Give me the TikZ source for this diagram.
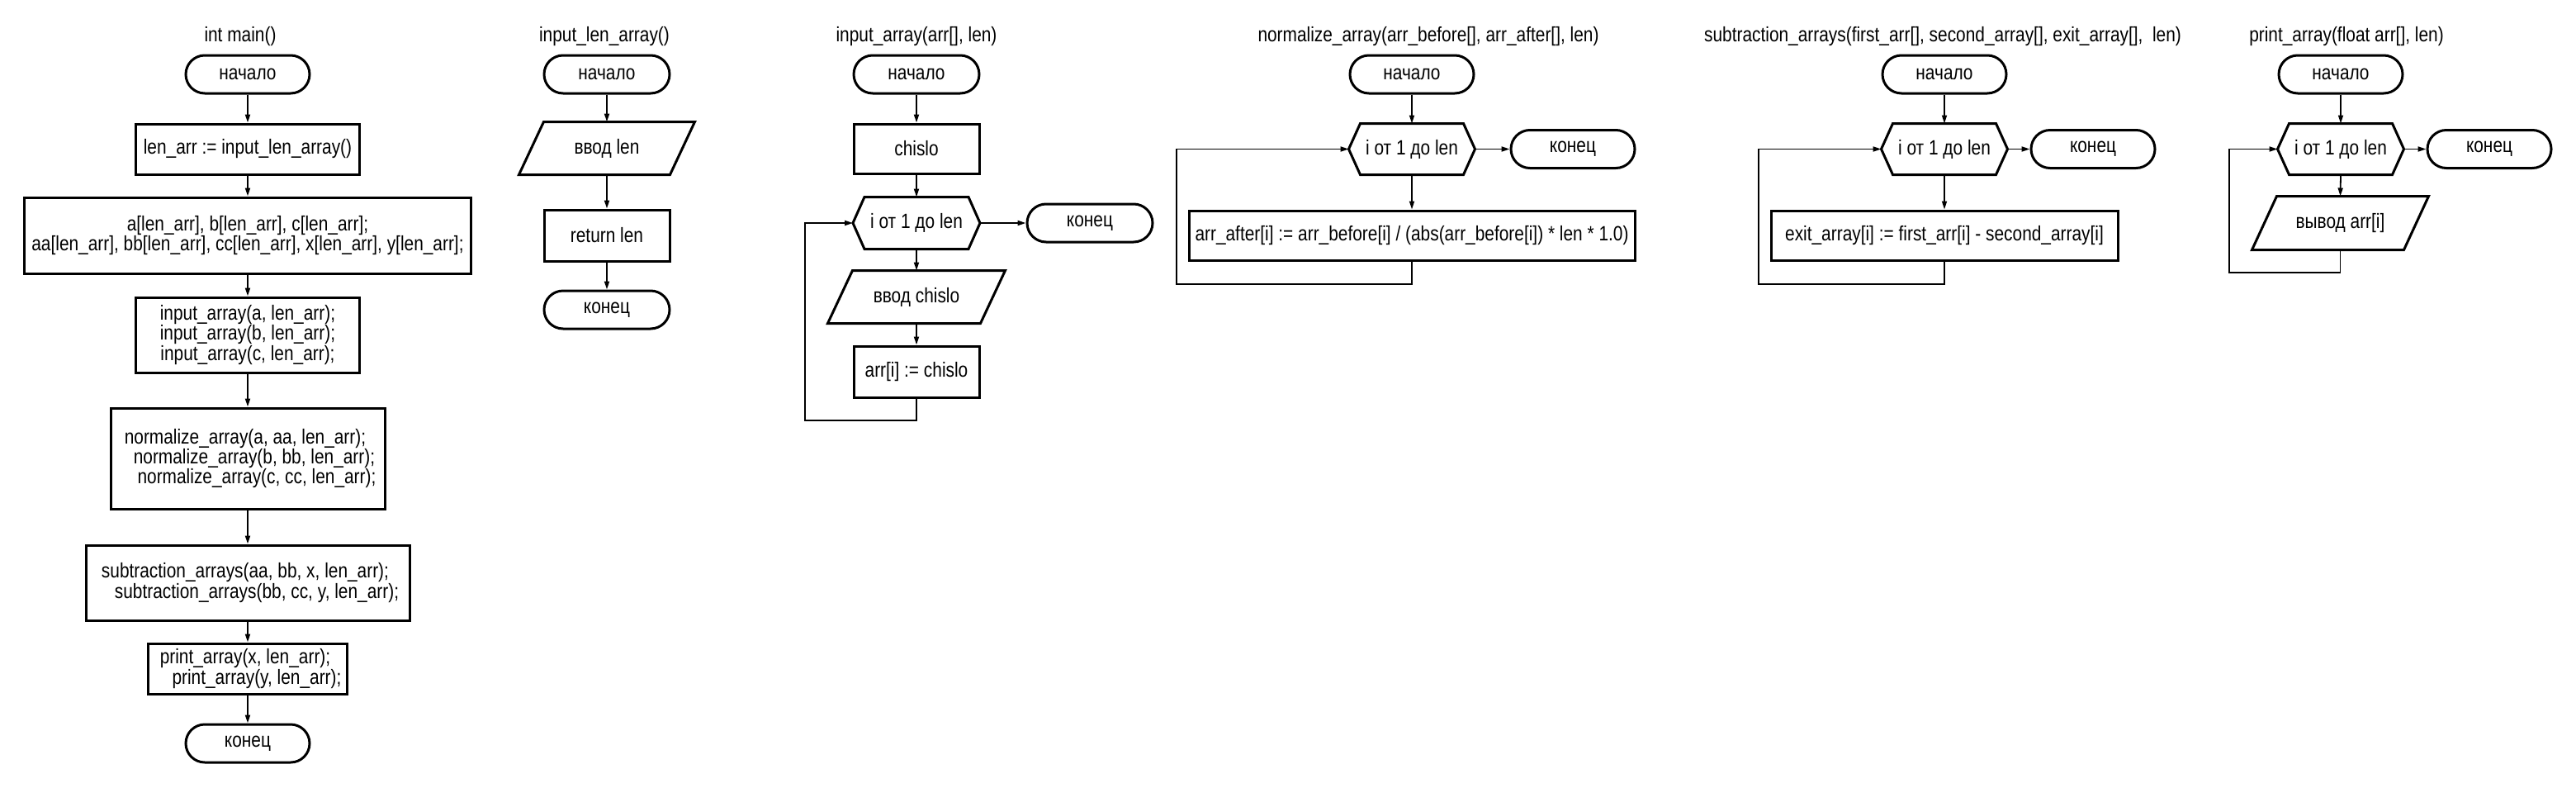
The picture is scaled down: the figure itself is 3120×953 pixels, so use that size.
\documentclass[tikz,border=0pt]{standalone}
\usepackage{fontspec}
\setmainfont{Liberation Sans}[FakeStretch=0.835]
\usetikzlibrary{arrows.meta}
\newcommand\hexo[1]{\draw[shapeline] (#1.west) -- ([xshift=14pt]#1.north west) -- ([xshift=-14pt]#1.north east) -- (#1.east) -- ([xshift=-14pt]#1.south east) -- ([xshift=14pt]#1.south west) -- cycle;}
\newcommand\paro[2]{\draw[shapeline] (#1.south west) -- ([xshift=-#2]#1.south east) -- (#1.north east) -- ([xshift=#2]#1.north west) -- cycle;}
\begin{document}
\begin{tikzpicture}[x=1pt,y=-1pt,
  font=\fontsize{25}{21.4}\selectfont,
  shapeline/.style={line width=3pt, line join=miter},
  term/.style={draw, line width=3pt, rounded corners=23pt, minimum width=150pt, minimum height=46pt, inner sep=0pt},
  proc/.style={draw, line width=3pt, inner sep=0pt, align=center},
  hexn/.style={inner sep=0pt, outer sep=1.5pt, minimum width=150pt, minimum height=59pt},
  paran/.style={inner sep=0pt, outer sep=1.5pt, minimum height=61pt},
  ttl/.style={inner sep=0pt},
  conn/.style={line width=1.8pt, -{Triangle[length=10pt,width=6pt]}}
]
\fill[white] (0,0) rectangle (3120,953);
\useasboundingbox (0,0) rectangle (3120,953);

% ---------- int main() ----------
\node[ttl] (t1) at (291,44) {int main()};
\node[term] (m0) at (300,90) {начало};
\node[proc, minimum width=271pt, minimum height=61pt] (m1) at (300,180.5) {len\_arr := input\_len\_array()};
\node[proc, minimum width=541pt, minimum height=92pt] (m2) at (300,285) {a[len\_arr], b[len\_arr], c[len\_arr];\\aa[len\_arr], bb[len\_arr], cc[len\_arr], x[len\_arr], y[len\_arr];};
\node[proc, minimum width=271pt, minimum height=91pt] (m3) at (300,405.5) {input\_array(a, len\_arr);\\input\_array(b, len\_arr);\\input\_array(c, len\_arr);};
\node[proc, minimum width=332pt, minimum height=122pt] (m4) at (300,555) {normalize\_array(a, aa, len\_arr);\hspace*{6pt}\\\hspace*{16pt}normalize\_array(b, bb, len\_arr);\\\hspace*{22pt}normalize\_array(c, cc, len\_arr);};
\node[proc, minimum width=392pt, minimum height=91pt] (m5) at (300,705.5) {subtraction\_arrays(aa, bb, x, len\_arr);\hspace*{6pt}\\\hspace*{22pt}subtraction\_arrays(bb, cc, y, len\_arr);};
\node[proc, minimum width=241pt, minimum height=61pt] (m6) at (300,809.5) {print\_array(x, len\_arr);\hspace*{6pt}\\\hspace*{22pt}print\_array(y, len\_arr);};
\node[term] (m7) at (300,900) {конец};
\draw[conn] (m0.south) -- (m1.north);
\draw[conn] (m1.south) -- (m2.north);
\draw[conn] (m2.south) -- (m3.north);
\draw[conn] (m3.south) -- (m4.north);
\draw[conn] (m4.south) -- (m5.north);
\draw[conn] (m5.south) -- (m6.north);
\draw[conn] (m6.south) -- (m7.north);

% ---------- input_len_array() ----------
\node[ttl] (t2) at (732,44) {input\_len\_array()};
\node[term, minimum width=152pt] (a0) at (735,90) {начало};
\node[paran, minimum width=210pt] (a1) at (735,179.5) {ввод len};
\paro{a1}{30pt}
\node[proc, minimum width=152pt, minimum height=62pt] (a2) at (735,285) {return len};
\node[term, minimum width=152pt] (a3) at (735,375) {конец};
\draw[conn] (a0.south) -- (a1.north);
\draw[conn] (a1.south) -- (a2.north);
\draw[conn] (a2.south) -- (a3.north);

% ---------- input_array(arr[], len) ----------
\node[ttl] (t3) at (1110,44) {input\_array(arr[], len)};
\node[term, minimum width=152pt] (b0) at (1110,90) {начало};
\node[proc, minimum width=152pt, minimum height=60pt] (b1) at (1110,180) {chislo};
\node[hexn, minimum width=151pt, minimum height=60pt] (b2) at (1110,270) {i от 1 до len};
\hexo{b2}
\node[term, minimum width=152pt] (b3) at (1320,270) {конец};
\node[paran, minimum width=212pt] (b4) at (1110,359.5) {ввод chislo};
\paro{b4}{30pt}
\node[proc, minimum width=152pt, minimum height=62pt] (b5) at (1110,450) {arr[i] := chislo};
\coordinate (bl) at (975,509);
\draw[conn] (b0.south) -- (b1.north);
\draw[conn] (b1.south) -- (b2.north);
\draw[conn] (b2.east) -- (b3.west);
\draw[conn] (b2.south) -- (b4.north);
\draw[conn] (b4.south) -- (b5.north);
\draw[conn] (b5.south) |- (bl) |- (b2.west);

% ---------- normalize_array ----------
\node[ttl] (t4) at (1730,44) {normalize\_array(arr\_before[], arr\_after[], len)};
\node[term] (c0) at (1710,90) {начало};
\node[hexn] (c1) at (1710,180.5) {i от 1 до len};
\hexo{c1}
\node[term] (c2) at (1905,180.5) {конец};
\node[proc, minimum width=540pt, minimum height=60pt] (c3) at (1710,285) {arr\_after[i] := arr\_before[i] / (abs(arr\_before[i]) * len * 1.0)};
\coordinate (cl) at (1425,344);
\draw[conn] (c0.south) -- (c1.north);
\draw[conn] (c1.east) -- (c2.west);
\draw[conn] (c1.south) -- (c3.north);
\draw[conn] (c3.south) |- (cl) |- (c1.west);

% ---------- subtraction_arrays ----------
\node[ttl] (t5) at (2353,44) {subtraction\_arrays(first\_arr[], second\_array[], exit\_array[],\ \ len)};
\node[term] (d0) at (2355,90) {начало};
\node[hexn] (d1) at (2355,180.5) {i от 1 до len};
\hexo{d1}
\node[term] (d2) at (2535,180.5) {конец};
\node[proc, minimum width=420pt, minimum height=60pt] (d3) at (2355,285) {exit\_array[i] := first\_arr[i] - second\_array[i]};
\coordinate (dl) at (2130,344);
\draw[conn] (d0.south) -- (d1.north);
\draw[conn] (d1.east) -- (d2.west);
\draw[conn] (d1.south) -- (d3.north);
\draw[conn] (d3.south) |- (dl) |- (d1.west);

% ---------- print_array ----------
\node[ttl] (t6) at (2842,44) {print\_array(float arr[], len)};
\node[term] (e0) at (2835,90) {начало};
\node[hexn] (e1) at (2835,180.5) {i от 1 до len};
\hexo{e1}
\node[term] (e2) at (3015,180.5) {конец};
\node[paran, minimum width=211pt, minimum height=62pt] (e3) at (2834.5,270) {вывод arr[i]};
\paro{e3}{30pt}
\coordinate (el) at (2700,330);
\draw[conn] (e0.south) -- (e1.north);
\draw[conn] (e1.east) -- (e2.west);
\draw[conn] (e1.south) -- (e3.north);
\draw[conn] (e3.south) |- (el) |- (e1.west);
\end{tikzpicture}
\end{document}
